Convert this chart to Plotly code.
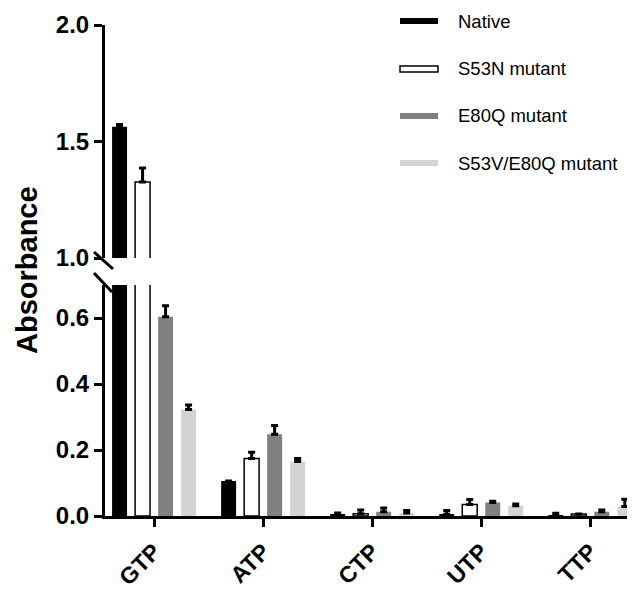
import plotly.graph_objects as go

categories = ["GTP", "ATP", "CTP", "UTP", "TTP"]
series_names = ["Native", "S53N mutant", "E80Q mutant", "S53V/E80Q mutant"]

native = [1.563, 0.106, 0.006, 0.005, 0.003]
native_err = [0.010, None, 0.003, 0.012, 0.005]
s53n = [1.326, 0.174, 0.007, 0.035, 0.006]
s53n_err = [0.060, 0.019, 0.011, 0.015, None]
e80q = [0.604, 0.248, 0.013, 0.041, 0.013]
e80q_err = [0.033, 0.026, 0.011, 0.004, 0.005]
s53v_e80q = [0.323, 0.165, 0.009, 0.031, 0.029]
s53v_e80q_err = [0.013, 0.009, 0.008, 0.005, 0.022]

lower_ticks = [0.0, 0.2, 0.4, 0.6]
upper_ticks = [1.0, 1.5, 2.0]

values = [native, s53n, e80q, s53v_e80q]
errors = [native_err, s53n_err, e80q_err, s53v_e80q_err]
fills = ["#000000", "#ffffff", "#808080", "#d4d4d4"]
outlines = ["#000000", "#000000", "#808080", "#d4d4d4"]
outline_w = [0, 1.5, 0, 0]

FONT = "Liberation Sans, Arial, sans-serif"

fig = go.Figure()
for yref in ["y", "y2"]:
    for name, v, e, fc, lc, lw in zip(series_names, values, errors, fills, outlines, outline_w):
        fig.add_trace(go.Bar(
            x=categories, y=v, name=name, yaxis=yref, xaxis="x",
            marker=dict(color=fc, line=dict(color=lc, width=lw)),
            error_y=dict(type="data", symmetric=False, array=e,
                         arrayminus=[0] * len(e), color="#000000",
                         thickness=3, width=3.5),
            showlegend=False,
        ))

# The page body adds an 8px offset; figure is sized to compensate.
OFF = 8
W, H = 635 - OFF, 590 - OFF
L, T, B = 105 - OFF, 25 - OFF, 74
PW, PH = W - L, H - T - B


def px(x):
    # x in screen pixels -> paper
    return (x - OFF - L) / PW


def py(y):
    # y in screen pixels -> paper
    return (H - B - (y - OFF)) / PH


lower_top = py(285)
upper_bottom = py(258)

axis_common = dict(showline=True, linecolor="#000000", linewidth=3,
                   ticks="outside", ticklen=8, tickwidth=3, tickcolor="#000000",
                   showgrid=False, zeroline=False, automargin=False,
                   tickfont=dict(family=FONT, size=24, color="#000000", weight="bold"))

fig.update_layout(
    width=W, height=H,
    margin=dict(l=L, r=0, t=T, b=B),
    plot_bgcolor="white", paper_bgcolor="white",
    barmode="group", bargap=0.156, bargroupgap=0.35,
    showlegend=False,
    xaxis=dict(**axis_common, range=[-0.45, 4.41], tickangle=-45,
               anchor="y"),
    yaxis=dict(**axis_common, domain=[0, lower_top], range=[0, 0.7],
               tickvals=lower_ticks, ticktext=[f"{t:.1f}" for t in lower_ticks],
               anchor="x"),
    yaxis2=dict(**axis_common, domain=[upper_bottom, 1], range=[1, 2],
                tickvals=upper_ticks, ticktext=[f"{t:.1f}" for t in upper_ticks],
                anchor="x"),
)
fig.update_xaxes(tickfont=dict(size=23), ticklabelstandoff=2)

# axis break marks
for (x0, y0, x1, y1) in [(94, 252, 113, 269), (94, 273, 112, 292)]:
    fig.add_shape(type="line", xref="paper", yref="paper",
                  x0=px(x0), y0=py(y0), x1=px(x1), y1=py(y1),
                  line=dict(color="#000000", width=3))

# y axis title
fig.add_annotation(text="Absorbance", xref="paper", yref="paper",
                   x=px(27), y=py(270), xanchor="center", yanchor="middle",
                   textangle=-90, showarrow=False,
                   font=dict(family=FONT, size=29, color="#000000", weight="bold"))

# legend (custom, to reproduce wide flat swatches)
row_y = [21, 69, 116, 163]
for name, fc, lw, ry in zip(series_names, fills, outline_w, row_y):
    fig.add_shape(type="rect", xref="paper", yref="paper",
                  x0=px(400), x1=px(438), y0=py(ry + 3), y1=py(ry - 3),
                  fillcolor=fc,
                  line=dict(color="#000000" if fc in ("#000000", "#ffffff") else fc,
                            width=1.5 if fc == "#ffffff" else 0))
    fig.add_annotation(text=name, xref="paper", yref="paper",
                       x=px(456), y=py(ry), xanchor="left", yanchor="middle",
                       showarrow=False,
                       font=dict(family=FONT, size=18.5, color="#000000"))

fig.write_html("out.html")
